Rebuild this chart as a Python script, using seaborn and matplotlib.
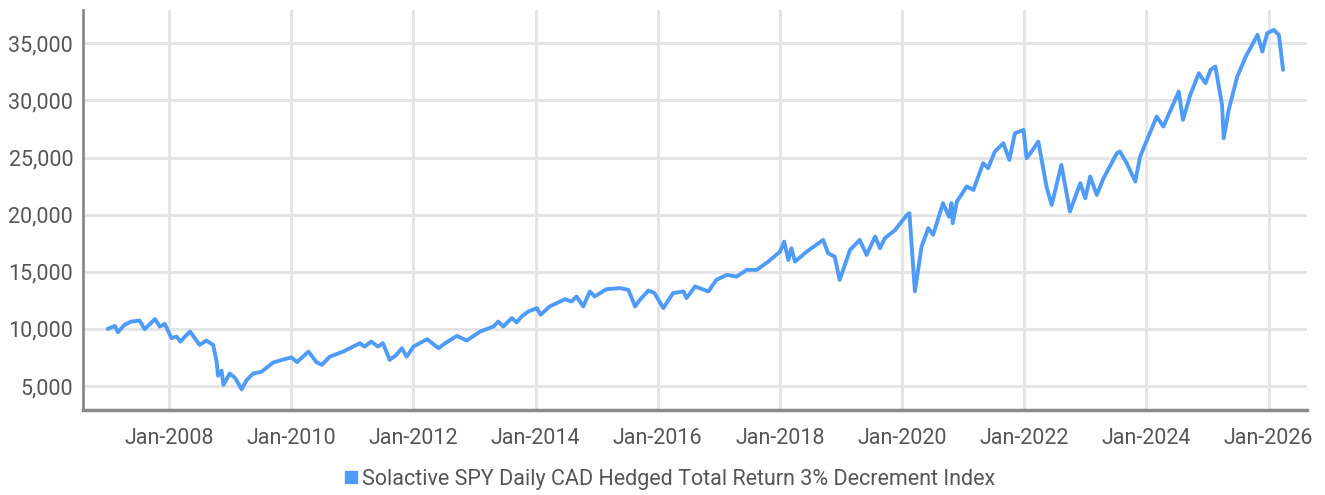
import pandas as pd
import matplotlib
matplotlib.use("Agg")
import matplotlib.pyplot as plt
import matplotlib.dates as mdates
from matplotlib.lines import Line2D
import seaborn as sns

# values
dates = [
    "2006-12-29", "2007-02-10", "2007-02-28", "2007-04-08", "2007-05-18", "2007-07-08",
    "2007-08-07", "2007-10-08", "2007-11-06", "2007-12-05", "2008-01-15", "2008-02-14",
    "2008-03-07", "2008-05-04", "2008-07-01", "2008-08-10", "2008-09-20", "2008-10-11",
    "2008-10-19", "2008-11-09", "2008-11-20", "2008-12-28", "2009-01-30", "2009-03-09",
    "2009-04-08", "2009-05-18", "2009-07-05", "2009-09-13", "2009-11-13", "2010-01-01",
    "2010-02-03", "2010-04-13", "2010-05-30", "2010-07-02", "2010-08-18", "2010-11-06",
    "2011-02-14", "2011-03-14", "2011-04-23", "2011-06-03", "2011-07-02", "2011-08-04",
    "2011-08-11", "2011-09-20", "2011-10-23", "2011-11-21", "2012-01-01", "2012-03-22",
    "2012-05-30", "2012-07-09", "2012-09-16", "2012-11-14", "2013-02-03", "2013-04-23",
    "2013-05-22", "2013-06-21", "2013-08-11", "2013-09-09", "2013-10-09", "2013-11-18",
    "2014-01-08", "2014-01-30", "2014-03-26", "2014-06-25", "2014-08-04", "2014-09-02",
    "2014-10-12", "2014-11-21", "2014-12-20", "2015-02-28", "2015-05-19", "2015-07-09",
    "2015-08-18", "2015-09-16", "2015-11-06", "2015-12-13", "2016-02-03", "2016-04-01",
    "2016-06-03", "2016-06-21", "2016-08-11", "2016-10-30", "2016-12-16", "2017-02-17",
    "2017-04-16", "2017-06-17", "2017-08-15", "2017-10-23", "2018-01-01", "2018-01-26",
    "2018-02-20", "2018-03-10", "2018-04-01", "2018-06-10", "2018-09-16", "2018-10-16",
    "2018-11-24", "2018-12-24", "2019-02-24", "2019-04-23", "2019-06-03", "2019-07-24",
    "2019-08-22", "2019-09-20", "2019-11-21", "2020-01-30", "2020-02-14", "2020-03-18",
    "2020-04-27", "2020-06-06", "2020-07-05", "2020-09-02", "2020-10-08", "2020-10-23",
    "2020-10-30", "2020-11-24", "2021-01-22", "2021-03-03", "2021-04-30", "2021-05-30",
    "2021-07-09", "2021-08-29", "2021-10-04", "2021-11-06", "2021-12-28", "2022-01-15",
    "2022-02-14", "2022-03-26", "2022-05-16", "2022-06-14", "2022-08-11", "2022-10-01",
    "2022-12-02", "2023-01-01", "2023-01-30", "2023-03-11", "2023-04-20", "2023-07-09",
    "2023-07-27", "2023-09-06", "2023-10-27", "2023-11-25", "2024-01-01", "2024-03-03",
    "2024-04-12", "2024-07-13", "2024-08-07", "2024-09-20", "2024-11-10", "2024-12-20",
    "2025-01-19", "2025-02-17", "2025-03-29", "2025-04-08", "2025-05-08", "2025-06-28",
    "2025-08-18", "2025-10-27", "2025-11-25", "2025-12-24", "2026-02-02", "2026-03-04",
    "2026-03-29",
]
values = [
    10000, 10260, 9710, 10350, 10640, 10730,
    9980, 10860, 10210, 10440, 9190, 9330,
    8890, 9770, 8600, 8980, 8600, 7080,
    5900, 6340, 5100, 6100, 5690, 4710,
    5520, 6100, 6240, 7050, 7320, 7500,
    7100, 8010, 7100, 6850, 7570, 8010,
    8750, 8450, 8890, 8450, 8750, 7570,
    7290, 7720, 8310, 7570, 8450, 9100,
    8310, 8750, 9390, 8980, 9770, 10210,
    10640, 10210, 10950, 10570, 11090, 11530,
    11820, 11240, 11970, 12600, 12400, 12840,
    11970, 13280, 12840, 13480, 13570, 13430,
    11970, 12540, 13360, 13130, 11820, 13130,
    13280, 12700, 13720, 13280, 14290, 14730,
    14580, 15170, 15170, 15890, 16770, 17640,
    16040, 17060, 15890, 16770, 17790, 16620,
    16330, 14290, 16920, 17790, 16480, 18090,
    17060, 17940, 18670, 19980, 20130, 13280,
    17210, 18820, 18240, 21010, 19830, 21010,
    19250, 21150, 22470, 22170, 24510, 24070,
    25530, 26260, 24800, 27130, 27420, 24950,
    25530, 26400, 22320, 20860, 24360, 20280,
    22760, 21440, 23340, 21730, 23190, 25380,
    25530, 24510, 22900, 25090, 26400, 28590,
    27720, 30780, 28300, 30490, 32390, 31510,
    32680, 32970, 29610, 26700, 29180, 32100,
    33840, 35740, 34280, 35890, 36180, 35740,
    32680,
]
series_name = "Solactive SPY Daily CAD Hedged Total Return 3% Decrement Index"
y_ticks = [5000, 10000, 15000, 20000, 25000, 30000, 35000]

df = pd.DataFrame({"date": pd.to_datetime(dates), "value": values})

sns.set_style("white")
plt.rcParams["font.family"] = ["Roboto", "DejaVu Sans"]

line_color = "#4f9bfa"
text_color = "#555555"

fig = plt.figure(figsize=(13.25, 4.95), dpi=100)
ax = fig.add_axes([0.0626, 0.1717, 0.9238, 0.8083])

sns.lineplot(data=df, x="date", y="value", ax=ax, color=line_color,
             linewidth=2.8, legend=False)

ax.set_xlim(pd.Timestamp("2006-08-03"), pd.Timestamp("2026-08-19"))
ax.set_ylim(2900, 37930)
ax.set_yticks(y_ticks)
ax.yaxis.set_major_formatter(matplotlib.ticker.FuncFormatter(lambda v, p: f"{int(v):,}"))
ax.xaxis.set_major_locator(mdates.YearLocator(2, month=1, day=1))
ax.xaxis.set_major_formatter(mdates.DateFormatter("%b-%Y"))

ax.grid(True, color="#e5e5e5", linewidth=2.2)
ax.set_axisbelow(True)
for s in ["top", "right"]:
    ax.spines[s].set_visible(False)
ax.spines["left"].set_color("#8a8a8a")
ax.spines["left"].set_linewidth(2)
ax.spines["bottom"].set_color("#8a8a8a")
ax.spines["bottom"].set_linewidth(2.5)

ax.tick_params(axis="both", length=0, labelsize=15.5, labelcolor=text_color)
ax.tick_params(axis="y", pad=7)
ax.tick_params(axis="x", pad=13)
ax.set_xlabel("")
ax.set_ylabel("")

handle = Line2D([], [], linestyle="none", marker="s", markersize=8,
                color=line_color, label=series_name)
leg = fig.legend(handles=[handle], loc="lower center", bbox_to_anchor=(0.505, 0.0),
                 frameon=False, handletextpad=0.1, handlelength=0.8,
                 borderaxespad=0.0, borderpad=0.25,
                 prop={"size": 15.5})
for t in leg.get_texts():
    t.set_color(text_color)

fig.savefig("out.png", dpi=100)
